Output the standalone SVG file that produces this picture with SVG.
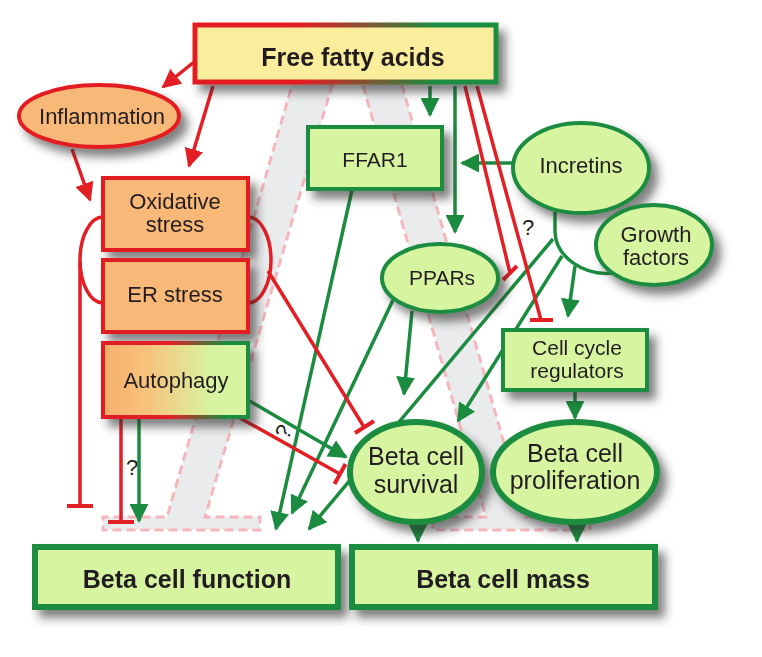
<svg xmlns="http://www.w3.org/2000/svg" width="762" height="657" viewBox="0 0 762 657">
<defs>
<style>
.t{font-family:"Liberation Sans",Arial,sans-serif;fill:#231F20;text-anchor:middle}
.n{font-size:22px}
.b{font-size:25px;font-weight:bold}
.big{font-size:25px}
.sm{font-size:21px}
.band{fill:#E5E6E8;fill-opacity:0.8;stroke:#F5B7BC;stroke-width:3;stroke-dasharray:9 5}
.gl{fill:none;stroke:#1B8C3F;stroke-width:3.5}
.rl{fill:none;stroke:#E31E24;stroke-width:3.5}
.ga{marker-end:url(#ag)}
.ra{marker-end:url(#ar)}
.tee{stroke:#E31E24;stroke-width:4;fill:none}
.gn{fill:#D7F4A1;stroke:#1B8C3F;stroke-width:4}
.gn6{fill:#D7F4A1;stroke:#1B8C3F;stroke-width:6}
.on{fill:#F8B878;stroke:#E31E24;stroke-width:4}
</style>
<marker id="ag" viewBox="0 0 10 10" refX="9" refY="5" markerWidth="19" markerHeight="19" markerUnits="userSpaceOnUse" orient="auto"><path d="M0,0 L10,5 L0,10 z" fill="#1B8C3F"/></marker>
<marker id="ar" viewBox="0 0 10 10" refX="9" refY="5" markerWidth="19" markerHeight="19" markerUnits="userSpaceOnUse" orient="auto"><path d="M0,0 L10,5 L0,10 z" fill="#E31E24"/></marker>
<filter id="sh" x="-20%" y="-20%" width="150%" height="170%"><feDropShadow dx="7" dy="8" stdDeviation="5" flood-color="#2a2a2a" flood-opacity="0.6"/></filter>
<linearGradient id="ffaStroke" x1="0" y1="0" x2="1" y2="0"><stop offset="0" stop-color="#E31E24"/><stop offset="0.35" stop-color="#E31E24"/><stop offset="0.8" stop-color="#1B8C3F"/><stop offset="1" stop-color="#1B8C3F"/></linearGradient>
<linearGradient id="autoFill" x1="0" y1="0" x2="1" y2="0"><stop offset="0" stop-color="#F6AF6C"/><stop offset="0.3" stop-color="#F8C27C"/><stop offset="0.75" stop-color="#D7F4A1"/><stop offset="1" stop-color="#D7F4A1"/></linearGradient>
<linearGradient id="autoStroke" x1="0" y1="0" x2="1" y2="0"><stop offset="0" stop-color="#E31E24"/><stop offset="0.45" stop-color="#E31E24"/><stop offset="0.85" stop-color="#1B8C3F"/><stop offset="1" stop-color="#1B8C3F"/></linearGradient>
</defs>
<rect width="762" height="657" fill="#FFFFFF"/>
<g id="bands">
<polygon class="band" points="293,82 333,82 205,517 260,517 260,530 103,530 103,517 167,517"/>
<polygon class="band" points="362,82 401,82 525,517 590,517 590,530 433,530 433,517 486,517"/>
</g>
<g id="connectors">
<line class="gl ga" x1="430" y1="86" x2="430" y2="115"/>
<line class="gl ga" x1="455" y1="86" x2="455" y2="232"/>
<line class="gl ga" x1="514" y1="163" x2="462" y2="163"/>
<line class="gl ga" x1="352" y1="190" x2="276" y2="529"/>
<line class="gl ga" x1="393" y1="300" x2="292" y2="513"/>
<line class="gl ga" x1="412" y1="311" x2="404" y2="394"/>
<path class="gl" d="M555,212 L555,232 C556,258 585,276 612,273"/>
<line class="gl ga" x1="553" y1="239" x2="309" y2="529"/>
<line class="gl ga" x1="562" y1="256" x2="458" y2="421"/>
<line class="gl ga" x1="575" y1="266" x2="568" y2="316"/>
<line class="gl ga" x1="575" y1="390" x2="575" y2="418"/>
<line class="gl ga" x1="418" y1="522" x2="418" y2="541"/>
<line class="gl ga" x1="577" y1="522" x2="577" y2="541"/>
<line class="gl ga" x1="139" y1="418" x2="139" y2="521"/>
<line class="gl ga" x1="248" y1="400" x2="346" y2="457"/>
<line class="rl ra" x1="194" y1="62" x2="163" y2="87"/>
<line class="rl ra" x1="213" y1="86" x2="189" y2="166"/>
<line class="rl ra" x1="72" y1="149" x2="90" y2="200"/>
<path class="rl" d="M103,217 A23,43 0 0 0 103,303"/>
<line class="rl" x1="80" y1="262" x2="80" y2="506"/>
<line class="tee" x1="67" y1="506" x2="93" y2="506"/>
<path class="rl" d="M248,217 A23,43 0 0 1 248,303"/>
<line class="rl" x1="268" y1="271" x2="364" y2="427"/>
<line class="tee" x1="355" y1="433" x2="374" y2="421"/>
<line class="rl" x1="121" y1="418" x2="121" y2="522"/>
<line class="tee" x1="108" y1="522" x2="134" y2="522"/>
<line class="rl" x1="240" y1="418" x2="340" y2="474"/>
<line class="tee" x1="345.5" y1="464" x2="334.5" y2="484"/>
<line class="rl" x1="465" y1="86" x2="510" y2="273"/>
<line class="tee" x1="503" y1="280" x2="517" y2="266"/>
<line class="rl" x1="477" y1="86" x2="541" y2="320"/>
<line class="tee" x1="530" y1="320" x2="553" y2="320"/>
<text class="t" x="132" y="475" font-size="22">?</text>
<text class="t" x="528" y="235" font-size="22">?</text>
<text class="t" x="284" y="439" font-size="22" transform="rotate(-60 284 432)">?</text>
</g>
<g id="ffa" filter="url(#sh)">
<rect x="195" y="25" width="301" height="57" fill="#FAEE9C" stroke="url(#ffaStroke)" stroke-width="5"/>
<text class="t b" x="353" y="66" font-size="24">Free fatty acids</text>
</g>
<g id="inflammation" filter="url(#sh)">
<ellipse class="on" cx="99" cy="116" rx="80" ry="31"/>
<text class="t n" x="102" y="124">Inflammation</text>
</g>
<g id="oxidative" filter="url(#sh)">
<rect class="on" x="103" y="178" width="145" height="72"/>
<text class="t n" x="175" y="209">Oxidative</text>
<text class="t n" x="175" y="232">stress</text>
</g>
<g id="er" filter="url(#sh)">
<rect class="on" x="103" y="260" width="145" height="72"/>
<text class="t n" x="175" y="302">ER stress</text>
</g>
<g id="autophagy" filter="url(#sh)">
<rect x="103" y="343" width="145" height="74" fill="url(#autoFill)" stroke="url(#autoStroke)" stroke-width="4"/>
<text class="t n" x="176" y="388">Autophagy</text>
</g>
<g id="ffar1" filter="url(#sh)">
<rect class="gn" x="308" y="127" width="134" height="62"/>
<text class="t sm" x="375" y="167">FFAR1</text>
</g>
<g id="incretins" filter="url(#sh)">
<ellipse class="gn" cx="581" cy="168" rx="68" ry="45"/>
<text class="t n" x="581" y="173">Incretins</text>
</g>
<g id="growth" filter="url(#sh)">
<ellipse class="gn" cx="654" cy="245" rx="58" ry="40"/>
<text class="t n" x="656" y="242">Growth</text>
<text class="t n" x="656" y="265">factors</text>
</g>
<g id="ppars" filter="url(#sh)">
<ellipse class="gn" cx="440" cy="278" rx="58" ry="34"/>
<text class="t sm" x="442" y="285">PPARs</text>
</g>
<g id="cellcycle" filter="url(#sh)">
<rect class="gn" x="503" y="330" width="144" height="60"/>
<text class="t" x="577" y="355" font-size="21">Cell cycle</text>
<text class="t" x="577" y="378" font-size="21">regulators</text>
</g>
<g id="survival" filter="url(#sh)">
<ellipse class="gn6" cx="416" cy="472" rx="66" ry="50"/>
<text class="t big" x="416" y="465">Beta cell</text>
<text class="t big" x="416" y="493">survival</text>
</g>
<g id="proliferation" filter="url(#sh)">
<ellipse class="gn6" cx="575" cy="472" rx="82" ry="50"/>
<text class="t big" x="575" y="462">Beta cell</text>
<text class="t big" x="575" y="489">proliferation</text>
</g>
<g id="function" filter="url(#sh)">
<rect class="gn6" x="35" y="547" width="303" height="60"/>
<text class="t b" x="187" y="588">Beta cell function</text>
</g>
<g id="mass" filter="url(#sh)">
<rect class="gn6" x="352" y="547" width="303" height="60"/>
<text class="t b" x="503" y="588">Beta cell mass</text>
</g>
</svg>
